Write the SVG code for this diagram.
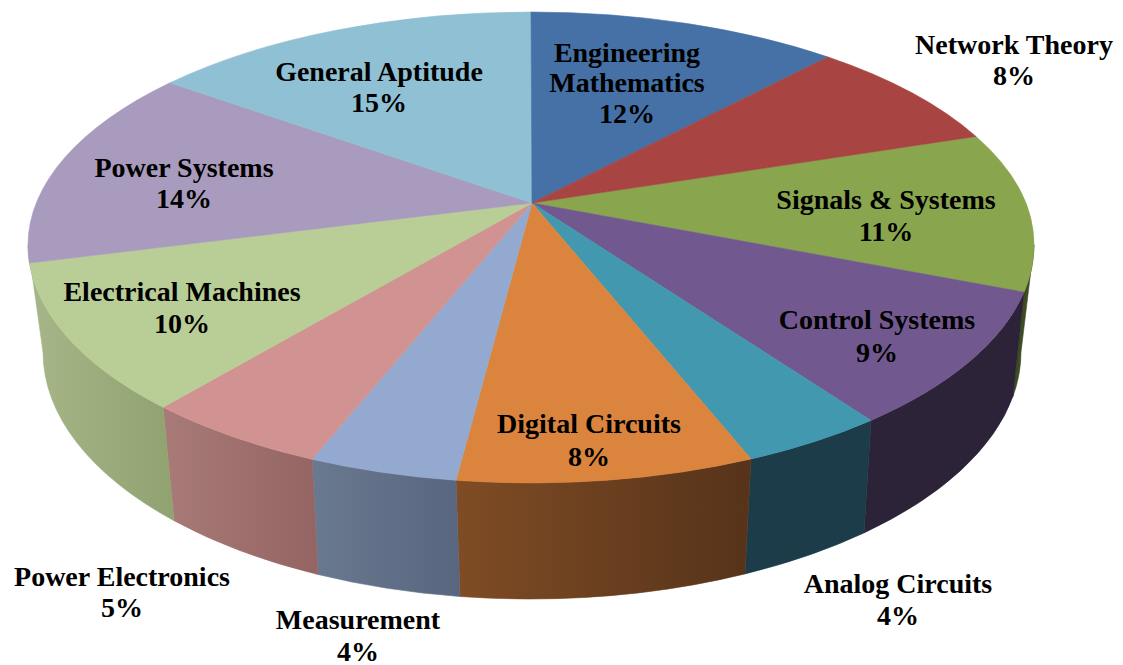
<svg xmlns="http://www.w3.org/2000/svg" width="1123" height="665" viewBox="0 0 1123 665">
<defs>
<style>
.lbl{font-family:"Liberation Serif","Times New Roman",serif;font-weight:bold;font-size:28px;fill:#000;text-anchor:middle}
path{stroke-width:0.6;stroke-linejoin:round}
</style>
<linearGradient id="gEM" x1="0" y1="0" x2="1" y2="0"><stop offset="0" stop-color="#a6b688"/><stop offset="1" stop-color="#91a271"/></linearGradient>
<linearGradient id="gPE" x1="0" y1="0" x2="1" y2="0"><stop offset="0" stop-color="#a87a78"/><stop offset="1" stop-color="#936462"/></linearGradient>
<linearGradient id="gME" x1="0" y1="0" x2="1" y2="0"><stop offset="0" stop-color="#69798f"/><stop offset="1" stop-color="#58667f"/></linearGradient>
<linearGradient id="gDC" x1="0" y1="0" x2="1" y2="0"><stop offset="0" stop-color="#7f4c24"/><stop offset="1" stop-color="#56331a"/></linearGradient>
</defs>
<rect width="1123" height="665" fill="#ffffff"/>

<g id="signals-systems">
<path d="M1034,245 A503 238 0 0 1 1024,292.2 L1013,396.3 A492 247 0 0 0 1021,352 Z" fill="#3d4c22" stroke="#3d4c22"/>
<path d="M532,203 L976,136.4 A503 233 0 0 1 1034,245 A503 238 0 0 1 1024,292.2 Z" fill="#89a54e" stroke="#89a54e"/>
<text class="lbl" x="886" y="209">Signals &amp; Systems</text>
<text class="lbl" x="886" y="241">11%</text>
</g>

<g id="control-systems">
<path d="M1024,292.2 A503 238 0 0 1 871,420.4 L864,532.9 A492 247 0 0 0 1013,396.3 Z" fill="#2c2338" stroke="#2c2338"/>
<path d="M532,203 L1024,292.2 A503 238 0 0 1 871,420.4 Z" fill="#71588f" stroke="#71588f"/>
<text class="lbl" x="877" y="329">Control Systems</text>
<text class="lbl" x="877" y="362">9%</text>
</g>

<g id="analog-circuits">
<path d="M871,420.4 A503 238 0 0 1 751,459 L745,573.9 A492 247 0 0 0 864,532.9 Z" fill="#1b3c48" stroke="#1b3c48"/>
<path d="M532,203 L871,420.4 A503 238 0 0 1 751,459 Z" fill="#4198af" stroke="#4198af"/>
<text class="lbl" x="898" y="593">Analog Circuits</text>
<text class="lbl" x="898" y="625">4%</text>
</g>

<g id="digital-circuits">
<path d="M751,459 A503 238 0 0 1 456,480.3 L460,596.5 A486 247 0 0 0 529,599 A492 247 0 0 0 745,573.9 Z" fill="url(#gDC)" stroke="url(#gDC)"/>
<path d="M532,203 L751,459 A503 238 0 0 1 456,480.3 Z" fill="#db843d" stroke="#db843d"/>
<text class="lbl" x="589" y="433">Digital Circuits</text>
<text class="lbl" x="589" y="466">8%</text>
</g>

<g id="measurement">
<path d="M456,480.3 A503 238 0 0 1 312,459.3 L318,574.5 A486 247 0 0 0 460,596.5 Z" fill="url(#gME)" stroke="url(#gME)"/>
<path d="M532,203 L456,480.3 A503 238 0 0 1 312,459.3 Z" fill="#93a9cf" stroke="#93a9cf"/>
<text class="lbl" x="358" y="629">Measurement</text>
<text class="lbl" x="358" y="661">4%</text>
</g>

<g id="power-electronics">
<path d="M312,459.3 A503 238 0 0 1 163,407.2 L174,520.7 A486 247 0 0 0 318,574.5 Z" fill="url(#gPE)" stroke="url(#gPE)"/>
<path d="M532,203 L312,459.3 A503 238 0 0 1 163,407.2 Z" fill="#d19392" stroke="#d19392"/>
<text class="lbl" x="122" y="586">Power Electronics</text>
<text class="lbl" x="122" y="617">5%</text>
</g>

<g id="electrical-machines">
<path d="M163,407.2 A503 238 0 0 1 28,245 L43,352 A486 247 0 0 0 174,520.7 Z" fill="url(#gEM)" stroke="url(#gEM)"/>
<path d="M532,203 L163,407.2 A503 238 0 0 1 29.4,263 Z" fill="#b9cd96" stroke="#b9cd96"/>
<text class="lbl" x="182" y="301">Electrical Machines</text>
<text class="lbl" x="182" y="333">10%</text>
</g>

<g id="power-systems">
<path d="M532,203 L29.4,263 A503 238 0 0 1 28,245 A503 233 0 0 1 170,82.8 Z" fill="#a99bbd" stroke="#a99bbd"/>
<text class="lbl" x="184" y="177">Power Systems</text>
<text class="lbl" x="184" y="208">14%</text>
</g>

<g id="general-aptitude">
<path d="M532,203 L170,82.8 A503 233 0 0 1 531,12 Z" fill="#8fc0d3" stroke="#8fc0d3"/>
<text class="lbl" x="379" y="81">General Aptitude</text>
<text class="lbl" x="379" y="112">15%</text>
</g>

<g id="engineering-mathematics">
<path d="M532,203 L531,12 A503 233 0 0 1 828,57 Z" fill="#4571a6" stroke="#4571a6"/>
<text class="lbl" x="627" y="62">Engineering</text>
<text class="lbl" x="627" y="92">Mathematics</text>
<text class="lbl" x="627" y="123">12%</text>
</g>

<g id="network-theory">
<path d="M532,203 L828,57 A503 233 0 0 1 976,136.4 Z" fill="#a84442" stroke="#a84442"/>
<text class="lbl" x="1014" y="54">Network Theory</text>
<text class="lbl" x="1014" y="85">8%</text>
</g>

<g id="connectors"></g>
</svg>
